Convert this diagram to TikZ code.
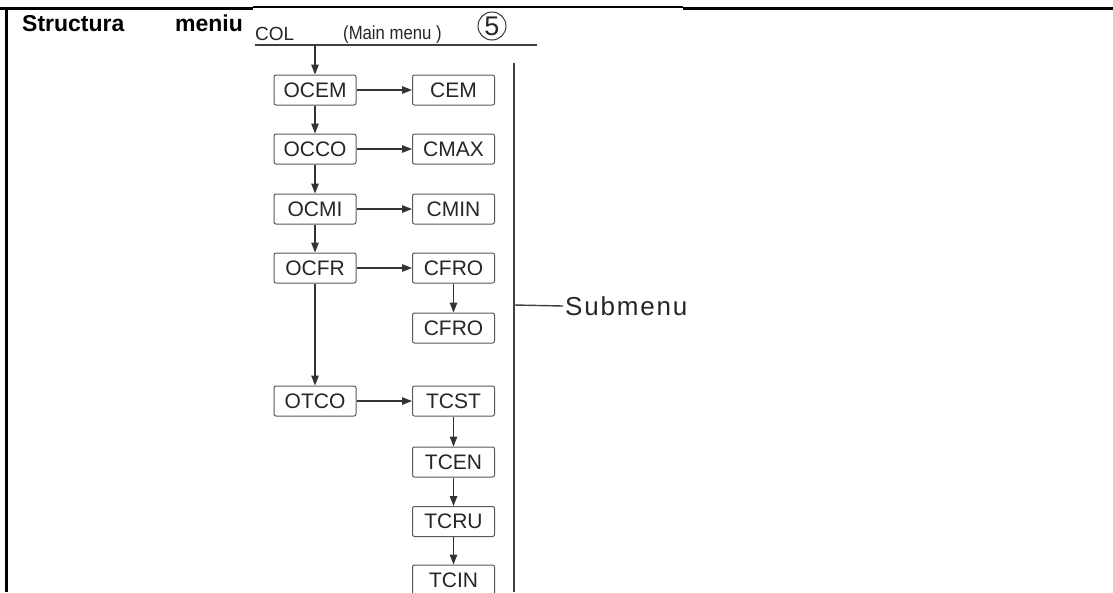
\documentclass[tikz,border=0pt]{standalone}
\usepackage{fontspec}
\setmainfont{Liberation Sans}
\usetikzlibrary{arrows.meta}

\tikzset{
  menubox/.style={draw=black!65, line width=1pt, rounded corners=2pt, minimum width=82pt, minimum height=30pt, inner sep=0pt, text=black!85, font=\fontsize{21}{21}\selectfont},
  flow/.style={line width=1.3pt, draw=black!80, -{Triangle[length=10pt,width=7.5pt]}},
  rule/.style={line width=1.4pt, draw=black!75},
}

\begin{document}
\begin{tikzpicture}[x=1pt,y=-1pt]
\useasboundingbox (0,0) rectangle (1113,592);
\fill[white] (0,0) rectangle (1113,592);
\draw[line width=3pt] (0,8.5) -- (253,8.5);
\draw[line width=1.5pt] (253,7) -- (683,7);
\draw[line width=3pt] (683,8.5) -- (1113,8.5);
\draw[line width=3pt] (6.5,7) -- (6.5,592);
\node[anchor=base west, inner sep=0pt, font=\bfseries\fontsize{23}{23}\selectfont] (struct) at (22,31) {Structura};
\node[anchor=base west, inner sep=0pt, font=\bfseries\fontsize{23}{23}\selectfont] (meniu) at (175,31) {meniu};
\node[anchor=base west, inner sep=0pt, text=black!85, font=\fontsize{19}{19}\selectfont] (col) at (255,40) {COL};
\node[anchor=base west, inner sep=0pt, text=black!85, font=\fontsize{19}{19}\selectfont\addfontfeatures{FakeStretch=0.88}] (mainmenu) at (343,39) {(Main menu )};
\node[circle, draw=black!80, line width=1pt, minimum size=28pt, inner sep=0pt, text=black!85, font=\fontsize{27}{27}\selectfont] (five) at (492,26) {5};
\coordinate (ruleL) at (255,45);
\coordinate (ruleR) at (537,45);
\coordinate (start) at (315,45);
\draw[rule] (ruleL) -- (ruleR);
\node[menubox] (ocem) at (315,90) {OCEM};
\node[menubox] (cem) at (453.5,90) {CEM};
\node[menubox] (occo) at (315,149) {OCCO};
\node[menubox] (cmax) at (453.5,149) {CMAX};
\node[menubox] (ocmi) at (315,209) {OCMI};
\node[menubox] (cmin) at (453.5,209) {CMIN};
\node[menubox] (ocfr) at (315,268) {OCFR};
\node[menubox] (cfro) at (453.5,268) {CFRO};
\node[menubox] (cfrotwo) at (453.5,328) {CFRO};
\node[menubox] (otco) at (315,401) {OTCO};
\node[menubox] (tcst) at (453.5,401) {TCST};
\node[menubox] (tcen) at (453.5,462) {TCEN};
\node[menubox] (tcru) at (453.5,521.5) {TCRU};
\node[menubox] (tcin) at (453.5,580) {TCIN};
\draw[flow] (start) -- (ocem);
\draw[flow] (ocem) -- (occo);
\draw[flow] (occo) -- (ocmi);
\draw[flow] (ocmi) -- (ocfr);
\draw[flow] (ocfr) -- (otco);
\draw[flow] (ocem) -- (cem);
\draw[flow] (occo) -- (cmax);
\draw[flow] (ocmi) -- (cmin);
\draw[flow] (ocfr) -- (cfro);
\draw[flow] (cfro) -- (cfrotwo);
\draw[flow] (otco) -- (tcst);
\draw[flow] (tcst) -- (tcen);
\draw[flow] (tcen) -- (tcru);
\draw[flow] (tcru) -- (tcin);
\coordinate (barTop) at (514,63);
\coordinate (barBot) at (514,592);
\coordinate (branch) at (514,305);
\draw[rule] (barTop) -- (barBot);
\node[anchor=west, inner sep=2pt, text=black!85, font=\fontsize{26}{26}\selectfont\addfontfeatures{LetterSpace=7}] (submenu) at (563,306) {Submenu};
\draw[rule] (branch) -- (submenu.west);
\end{tikzpicture}
\end{document}
